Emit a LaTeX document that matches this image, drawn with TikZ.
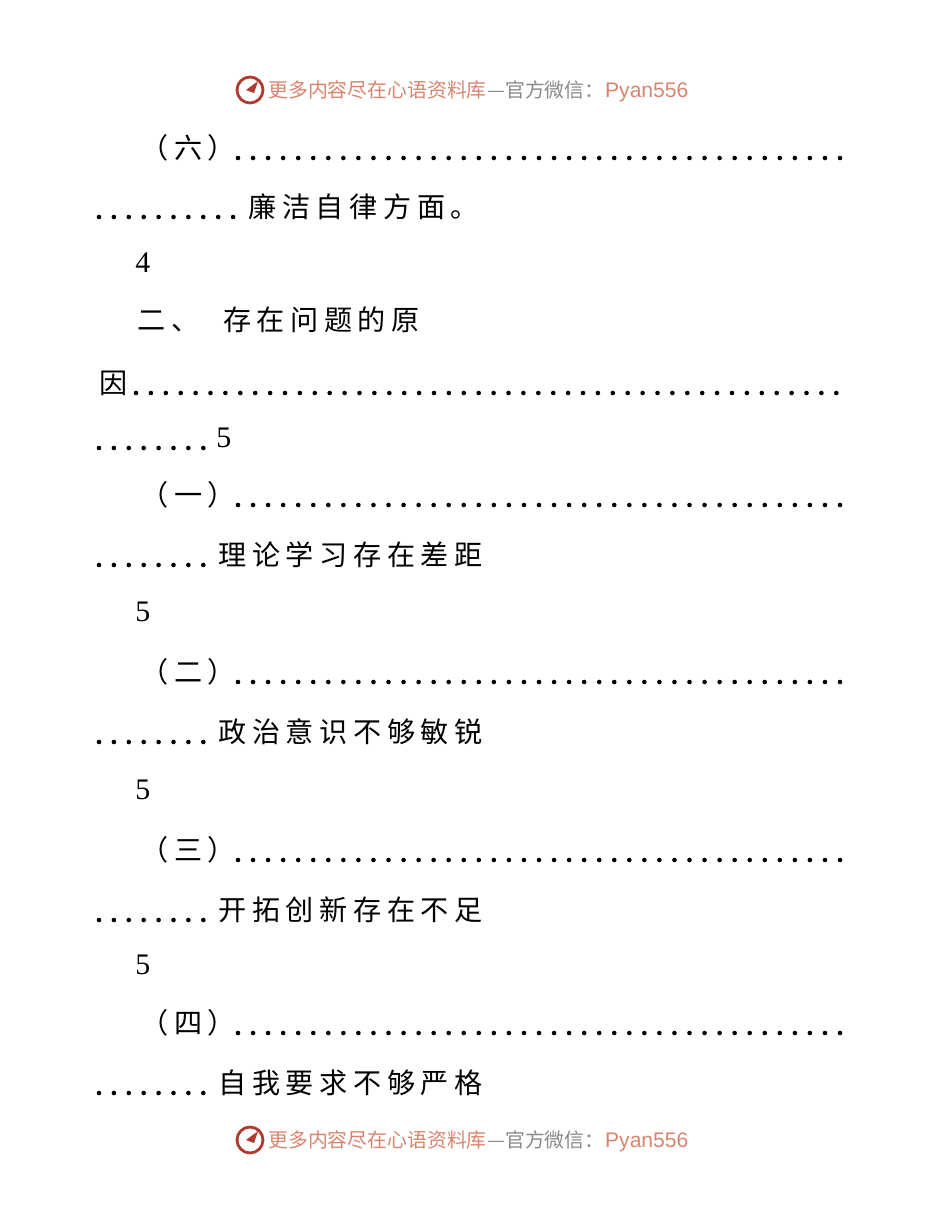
\documentclass[tikz,border=0pt]{standalone}
\usepackage{fontspec}
\usetikzlibrary{positioning}
\setmainfont{Liberation Serif}
\newfontfamily\cjk[LetterSpace=20]{Noto Sans CJK SC}
\newfontfamily\cjkhead{Noto Sans CJK SC}
\newfontfamily\headsans{Liberation Sans}
\definecolor{headred}{HTML}{D9846E}
\definecolor{headgray}{HTML}{8A8A8A}
\definecolor{logored}{HTML}{B03A2E}

\begin{document}
\begin{tikzpicture}[x=0.02cm,y=-0.02cm]
  \tikzset{txt/.style={anchor=west, inner sep=0pt, font=\cjk\fontsize{16pt}{16pt}\selectfont},
           num/.style={anchor=west, inner sep=0pt, font=\fontsize{17pt}{17pt}\selectfont},
           head/.style={anchor=base west, inner sep=0pt, font=\cjkhead\fontsize{11.3pt}{11.3pt}\selectfont, text=headred}}
  \useasboundingbox (0,0) rectangle (950,1230);

  % header and footer
  \foreach \hy/\hn in {90/top,1140/bot}{
    \draw[logored, line width=1.6pt] (250,\hy) circle (13);
    \fill[logored] (246,\hy) -- (258,\hy-9) -- (254,\hy+3) -- cycle;
    \node[head] (\hn a) at (268,\hy+7) {更多内容尽在心语资料库};
    \node[head, text=headgray, anchor=base west] (\hn b) at (\hn a.base east) {—官方微信：};
    \node[head, anchor=base west, font=\headsans\fontsize{12pt}{12pt}\selectfont] (\hn c) at (\hn b.base east) {Pyan556};
  }

  % entries
  \node[txt] (l1) at (140,148) {（六）};
  \foreach \i in {0,...,40} \fill (238+\i*15.05,158) circle (2.3);
  \foreach \i in {0,...,9} \fill (99+\i*14.9,217) circle (2.3);
  \node[txt] (l2) at (248,207) {廉洁自律方面。};
  \node[num] (l3) at (135,263) {4};
  \node[txt] (l4) at (137,320) {二、\ \ 存在问题的原};
  \node[txt] (l5) at (99,383) {因};
  \foreach \i in {0,...,47} \fill (136+\i*14.9,393) circle (2.3);
  \foreach \i in {0,...,7} \fill (99+\i*14.9,448) circle (2.3);
  \node[num] (l6) at (216,438) {5};

  \foreach \k/\yy/\lab/\txt in {0/495/（一）/理论学习存在差距,1/672/（二）/政治意识不够敏锐,2/850/（三）/开拓创新存在不足,3/1023/（四）/自我要求不够严格}{
    \node[txt] (h\k) at (140,\yy) {\lab};
    \foreach \i in {0,...,40} \fill (238+\i*15.05,\yy+10) circle (2.3);
    \foreach \i in {0,...,7} \fill (99+\i*14.9,\yy+70) circle (2.3);
    \node[txt] (t\k) at (218,\yy+60) {\txt};
  }
  \foreach \yy in {612,790,965} \node[num] at (135,\yy) {5};
\end{tikzpicture}
\end{document}
